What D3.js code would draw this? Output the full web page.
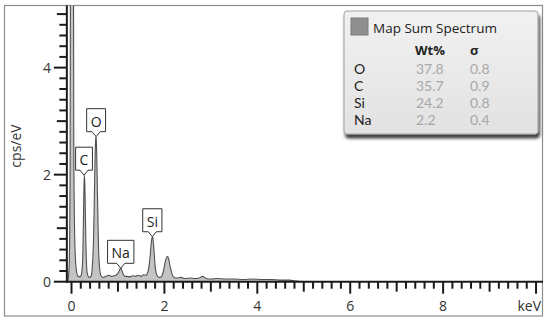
<!DOCTYPE html>
<html><head><meta charset="utf-8">
<script src="https://cdn.jsdelivr.net/npm/d3@7"></script>
<style>body{margin:0;background:#fff}svg{display:block;font-family:"Open Sans",sans-serif}</style>
</head><body><svg id="c" width="550" height="323"></svg>
<script>
// ---- data ----
const energy = [-0.08,-0.05,-0.03,-0.01,0.00,0.01,0.02,0.03,0.05,0.07,0.10,0.14,0.18,0.21,0.24,0.26,0.27,0.28,0.29,0.31,0.34,0.38,0.42,0.45,0.48,0.50,0.52,0.53,0.54,0.56,0.59,0.63,0.68,0.74,0.80,0.86,0.92,0.97,1.01,1.04,1.06,1.08,1.11,1.15,1.20,1.26,1.32,1.38,1.44,1.50,1.55,1.60,1.65,1.69,1.72,1.74,1.75,1.77,1.80,1.84,1.89,1.94,1.98,2.02,2.05,2.07,2.09,2.12,2.16,2.21,2.27,2.35,2.45,2.55,2.65,2.75,2.82,2.90,3.00,3.15,3.30,3.50,3.70,3.90,4.10,4.30,4.50,4.70,4.85,5.00,6.00,8.00,10.15];
const cps = [0.0,0.3,2.0,12,30,30,30,12,2.5,0.8,0.25,0.1,0.09,0.12,0.4,1.3,1.85,1.99,1.7,0.7,0.15,0.08,0.1,0.3,1.0,2.0,2.65,2.71,2.5,1.6,0.45,0.12,0.08,0.1,0.12,0.1,0.11,0.13,0.17,0.23,0.25,0.22,0.15,0.1,0.1,0.09,0.11,0.1,0.12,0.1,0.13,0.12,0.2,0.45,0.75,0.84,0.83,0.65,0.3,0.12,0.08,0.1,0.2,0.38,0.46,0.47,0.43,0.3,0.15,0.08,0.07,0.08,0.06,0.07,0.06,0.07,0.1,0.06,0.05,0.06,0.05,0.05,0.04,0.05,0.04,0.04,0.03,0.03,0.01,0,0,0,0];
const peakLabels = ["C","O","Na","Si"];
const peakEnergy = [0.27,0.53,1.06,1.74];
const peakHeight = [1.99,2.71,0.25,0.84];
const xTickLabels = ["0","2","4","6","8"];
const yTickLabels = ["0","2","4"];
const elements = ["O","C","Si","Na"];
const wtPct = ["37.8","35.7","24.2","2.2"];
const sigma = ["0.8","0.9","0.8","0.4"];
const seriesName = "Map Sum Spectrum";

// ---- chart ----
const svg = d3.select("#c");
const x = d3.scaleLinear().domain([-0.1,10.15]).range([66.85,543]);
const y = d3.scaleLinear().domain([0,5.17]).range([281.7,5]);

svg.append("rect").attr("x",4.5).attr("y",5.5).attr("width",538).attr("height",310.5)
  .attr("fill","#fff").attr("stroke","#8c8c8c").attr("stroke-width",1.2);

const defs = svg.append("defs");
defs.append("clipPath").attr("id","plot").append("rect")
  .attr("x",x(-0.1)).attr("y",5.5).attr("width",x(10.15)-x(-0.1)).attr("height",y(0)-5.5);
const gr = defs.append("linearGradient").attr("id","lg").attr("x1",0).attr("x2",0).attr("y1",0).attr("y2",1);
gr.append("stop").attr("offset","0%").attr("stop-color","#f1f1f1");
gr.append("stop").attr("offset","100%").attr("stop-color","#e2e2e2");
const f = defs.append("filter").attr("id","sh").attr("x","-10%").attr("y","-10%").attr("width","130%").attr("height","130%");
f.append("feDropShadow").attr("dx",1.5).attr("dy",4).attr("stdDeviation",1.6).attr("flood-color","#000").attr("flood-opacity",0.75);

const pts = energy.map((e,i)=>[e,cps[i]]);
const gp = svg.append("g").attr("clip-path","url(#plot)");
gp.append("path").datum(pts)
  .attr("d",d3.area().x(d=>x(d[0])).y0(y(0)).y1(d=>y(d[1])).curve(d3.curveMonotoneX))
  .attr("fill","#c4c4c4");
gp.append("path").datum(pts)
  .attr("d",d3.line().x(d=>x(d[0])).y(d=>y(d[1])).curve(d3.curveMonotoneX))
  .attr("fill","none").attr("stroke","#505050").attr("stroke-width",1.1);

// axes
const axCol = "#1a1a1a";
svg.append("line").attr("x1",x(-0.1)).attr("x2",x(-0.1)).attr("y1",5.5).attr("y2",y(0)+1)
  .attr("stroke",axCol).attr("stroke-width",2);
svg.append("line").attr("x1",x(-0.1)-1).attr("x2",x(10.15)).attr("y1",y(0)).attr("y2",y(0))
  .attr("stroke",axCol).attr("stroke-width",2);

const yt = d3.range(0,26).map(i=>i/5);
svg.append("g").selectAll("line").data(yt).join("line")
  .attr("x1",d=>x(-0.1)-(Math.abs(d%2)<1e-6?13:(Math.abs(d-Math.round(d))<1e-6?10:7.5)))
  .attr("x2",x(-0.1)).attr("y1",d=>y(d)).attr("y2",d=>y(d))
  .attr("stroke",axCol).attr("stroke-width",2);
svg.append("g").selectAll("text").data(yTickLabels).join("text")
  .attr("x",51).attr("y",d=>y(+d)).attr("dy","0.36em").attr("text-anchor","end")
  .attr("font-size",14).attr("fill","#333").text(d=>d);

const xt = d3.range(0,51).map(i=>i/5);
svg.append("g").selectAll("line").data(xt).join("line")
  .attr("x1",d=>x(d)).attr("x2",d=>x(d)).attr("y1",y(0))
  .attr("y2",d=>y(0)+(Math.abs(d%2)<1e-6?12:(Math.abs(d-Math.round(d))<1e-6?10:7)))
  .attr("stroke",axCol).attr("stroke-width",2);
svg.append("g").selectAll("text").data(xTickLabels).join("text")
  .attr("x",d=>x(+d)).attr("y",311).attr("text-anchor","middle")
  .attr("font-size",14).attr("fill","#333").text(d=>d);
svg.append("text").attr("x",541).attr("y",311).attr("text-anchor","end")
  .attr("font-size",14).attr("fill","#333").text("keV");
svg.append("text").attr("transform","translate(21,146) rotate(-90)").attr("text-anchor","middle")
  .attr("font-size",14).attr("fill","#333").text("cps/eV");

// callouts
const cg = svg.append("g");
peakLabels.forEach((lab,i)=>{
  const tx = x(peakEnergy[i]), ty = y(peakHeight[i]);
  const g = cg.append("g");
  const t = g.append("text").attr("x",tx).attr("y",ty-10).attr("text-anchor","middle")
    .attr("font-size",14).attr("fill","#222").text(lab);
  const w = t.node().getComputedTextLength()+8;
  const bot = ty-5, top = bot-23, l = tx-w/2, r = tx+w/2;
  g.insert("path","text").attr("d",`M${l},${top}H${r}V${bot}H${tx+4}L${tx},${ty}L${tx-4},${bot}H${l}Z`)
    .attr("fill","#fff").attr("stroke","#333").attr("stroke-width",1);
});

// legend
const lg = svg.append("g");
lg.append("rect").attr("x",344).attr("y",11).attr("width",194).attr("height",123).attr("rx",3)
  .attr("fill","url(#lg)").attr("stroke","#a0a0a0").attr("filter","url(#sh)");
lg.append("rect").attr("x",351).attr("y",18).attr("width",17).attr("height",17)
  .attr("fill","#8f8f8f").attr("stroke","#7a7a7a");
lg.append("text").attr("x",373).attr("y",33).attr("font-size",13.5).attr("fill","#222").text(seriesName);
lg.append("text").attr("x",415).attr("y",55).attr("font-size",13).attr("font-weight","bold").attr("fill","#222").text("Wt%");
lg.append("text").attr("x",470).attr("y",55).attr("font-size",13).attr("font-weight","bold").attr("fill","#222").text("σ");
elements.forEach((el,i)=>{
  const by = 73.5 + i*17;
  lg.append("text").attr("x",354).attr("y",by).attr("font-family","Lato").attr("font-size",14).attr("fill","#222").text(el);
  lg.append("text").attr("x",416).attr("y",by).attr("font-family","Lato").attr("font-size",14).attr("fill","#a8a8a8").text(wtPct[i]);
  lg.append("text").attr("x",470).attr("y",by).attr("font-family","Lato").attr("font-size",14).attr("fill","#a8a8a8").text(sigma[i]);
});
</script></body></html>
